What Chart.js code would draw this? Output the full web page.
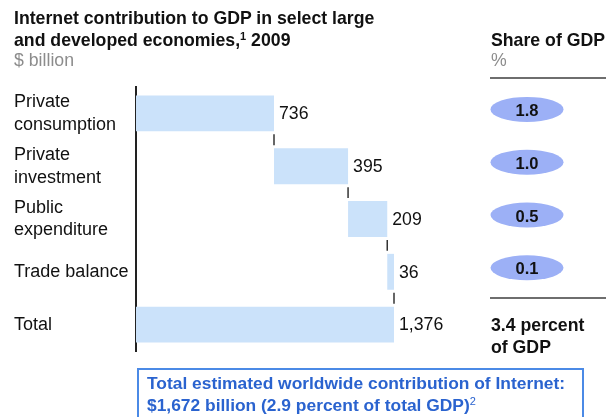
<!DOCTYPE html>
<html>
<head>
<meta charset="utf-8">
<script src="https://cdn.jsdelivr.net/npm/chart.js@4.4.1/dist/chart.umd.min.js"></script>
<style>
    body { margin: 0; background: #fff; font-family: "Liberation Sans", Arial, sans-serif; }
    #wrap { position: relative; width: 606px; height: 417px; overflow: hidden; }
    #grafico { position: absolute; left: 0; top: 0; }
    .txt { position: absolute; font-size: 17.7px; line-height: 22px; white-space: nowrap; color: #111; }
    .bold { font-weight: bold; }
    .cinza { color: #8c8c8c; }
    sup { font-size: 11px; line-height: 0; vertical-align: 6px; }
    .regua { position: absolute; left: 490px; width: 116px; height: 2px; background: #6e6e6e; }
    #caixa {
        position: absolute; left: 137px; top: 368px; width: 447px; height: 60px;
        border: 2px solid #4b8ae6; padding: 2px 0 0 8px; box-sizing: border-box;
        color: #2a63cf; font-weight: bold; font-size: 17.4px; line-height: 22px;
    }
    #caixa sup { font-weight: normal; }
</style>
</head>
<body>
<div id="wrap">
    <canvas id="grafico" width="606" height="417"></canvas>

    <div class="txt bold" style="left:14px; top:7px;">Internet contribution to GDP in select large<br>and developed economies,<sup>1</sup> 2009</div>
    <div class="txt cinza" style="left:14px; top:49px;">$ billion</div>

    <div class="txt bold" style="left:491px; top:29px;">Share of GDP</div>
    <div class="txt cinza" style="left:491px; top:49px;">%</div>
    <div class="regua" style="top:77px;"></div>
    <div class="regua" style="top:297px;"></div>
    <div class="txt bold" style="left:491px; top:314px;">3.4 percent<br>of GDP</div>

    <div id="caixa">Total estimated worldwide contribution of Internet:<br>$1,672 billion (2.9 percent of total GDP)<sup>2</sup></div>
</div>

<script>
// ----------------------------------------------------------------------------
// DADOS
// ----------------------------------------------------------------------------
const categorias = [
    ["Private", "consumption"],
    ["Private", "investment"],
    ["Public", "expenditure"],
    "Trade balance",
    "Total"
];
const valores = [736, 395, 209, 36];
const total = 1376;
const rotulos = ["736", "395", "209", "36", "1,376"];
const participacao = ["1.8", "1.0", "0.5", "0.1"];

// barras flutuantes (cascata)
const faixas = [];
let acumulado = 0;
valores.forEach(v => {
    faixas.push([acumulado, acumulado + v]);
    acumulado += v;
});
faixas.push([0, total]);


// ----------------------------------------------------------------------------
// PLUGIN: rótulos, conectores e elipses
// ----------------------------------------------------------------------------
const extras = {
    id: 'extras',
    afterDatasetsDraw(chart) {
        const ctx = chart.ctx;
        const meta = chart.getDatasetMeta(0);
        const x = chart.scales.x;

        ctx.save();

        // conectores entre barras
        ctx.strokeStyle = '#333';
        ctx.lineWidth = 1.5;
        for (let i = 0; i < meta.data.length - 1; i++) {
            const atual = meta.data[i];
            const prox = meta.data[i + 1];
            const px = x.getPixelForValue(faixas[i][1]);
            ctx.beginPath();
            ctx.moveTo(px, atual.y + atual.height / 2 + 3);
            ctx.lineTo(px, prox.y - prox.height / 2 - 3);
            ctx.stroke();
        }

        // valores
        ctx.fillStyle = '#111';
        ctx.font = '17.7px "Liberation Sans", Arial';
        ctx.textBaseline = 'middle';
        ctx.textAlign = 'left';
        meta.data.forEach((bar, i) => {
            ctx.fillText(rotulos[i], x.getPixelForValue(faixas[i][1]) + 5, bar.y + 1);
        });

        // elipses de participação no PIB
        participacao.forEach((p, i) => {
            const cy = meta.data[i].y - 4;
            ctx.fillStyle = '#9cb0f6';
            ctx.beginPath();
            ctx.ellipse(527, cy, 36.5, 12.5, 0, 0, Math.PI * 2);
            ctx.fill();
            ctx.fillStyle = '#111';
            ctx.font = 'bold 16.5px "Liberation Sans", Arial';
            ctx.textAlign = 'center';
            ctx.fillText(p, 527, cy + 2);
        });

        ctx.restore();
    }
};


// ----------------------------------------------------------------------------
// GRÁFICO
// ----------------------------------------------------------------------------
new Chart(document.getElementById('grafico'), {
    type: 'bar',
    data: {
        labels: categorias,
        datasets: [{
            data: faixas,
            backgroundColor: '#cbe2fa',
            borderWidth: 0,
            barPercentage: 0.68,
            categoryPercentage: 1
        }]
    },
    options: {
        indexAxis: 'y',
        responsive: false,
        animation: false,
        layout: { padding: { left: 14, top: 87, right: 212, bottom: 66 } },
        plugins: { legend: { display: false }, tooltip: { enabled: false } },
        scales: {
            x: { display: false, min: 0, max: total },
            y: {
                grid: { display: false, drawTicks: false },
                border: { color: '#222', width: 2 },
                ticks: {
                    crossAlign: 'far',
                    color: '#111',
                    padding: 0,
                    font: { family: '"Liberation Sans", Arial', size: 18, lineHeight: 1.27 }
                },
                afterFit: s => { s.width = 122; }
            }
        }
    },
    plugins: [extras]
});
</script>
</body>
</html>
